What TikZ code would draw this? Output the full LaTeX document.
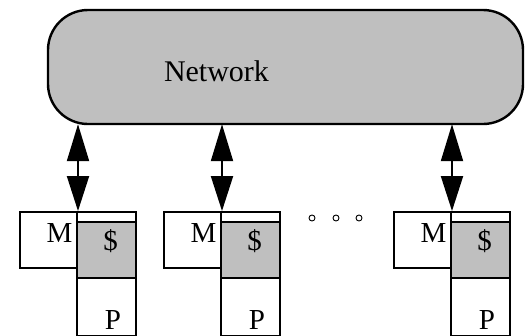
\documentclass[tikz,border=0pt]{standalone}
\usepackage{fontspec}
\setmainfont{Liberation Serif}
\usetikzlibrary{arrows.meta}
\definecolor{boxgray}{RGB}{191,191,191}
\begin{document}
\begin{tikzpicture}[x=1pt,y=-1pt,
  netbox/.style={draw,line width=2.4pt,fill=boxgray,rounded corners=40pt,minimum width=475pt,minimum height=114pt,inner sep=0pt},
  membox/.style={draw,line width=2pt,fill=white,minimum width=57pt,minimum height=56pt,inner sep=0pt,anchor=north west},
  colbox/.style={draw,line width=2pt,fill=white,minimum width=59pt,minimum height=124pt,inner sep=0pt,anchor=north west},
  cachebox/.style={draw,line width=2pt,fill=boxgray,minimum width=59pt,minimum height=56pt,inner sep=0pt,anchor=north west},
  lbl/.style={font=\fontsize{29}{29}\selectfont,inner sep=0pt},
  biarrow/.style={line width=2pt,{Triangle[length=37pt,width=22pt]}-{Triangle[length=35pt,width=22pt]},shorten <=0pt,shorten >=0pt},
  dot/.style={draw,line width=0.9pt,circle,minimum size=6pt,inner sep=0pt}]
\useasboundingbox (0,0) rectangle (525,335);
\node[netbox] (net) at (285.5,67) {};
\node[font=\fontsize{30}{30}\selectfont,inner sep=0pt] (nettext) at (216.5,71) {Network};
\foreach \i/\dx in {1/0,2/144,3/374}{
  \node[membox] (m\i) at (19+\dx,211) {};
  \node[colbox] (c\i) at (76+\dx,211) {};
  \node[cachebox] (k\i) at (76+\dx,221) {};
  \node[lbl] (mt\i) at (59.5+\dx,233) {M};
  \node[lbl] (kt\i) at (110.5+\dx,241) {\$};
  \node[lbl] (pt\i) at (113+\dx,320) {P};
  \coordinate (top\i) at (net.south -| m\i.north east);
  \draw[biarrow] ([yshift=1pt]top\i) -- (m\i.north east);
}
\node[dot] (d1) at (312,218) {};
\node[dot] (d2) at (336,218) {};
\node[dot] (d3) at (359,218) {};
\end{tikzpicture}
\end{document}
